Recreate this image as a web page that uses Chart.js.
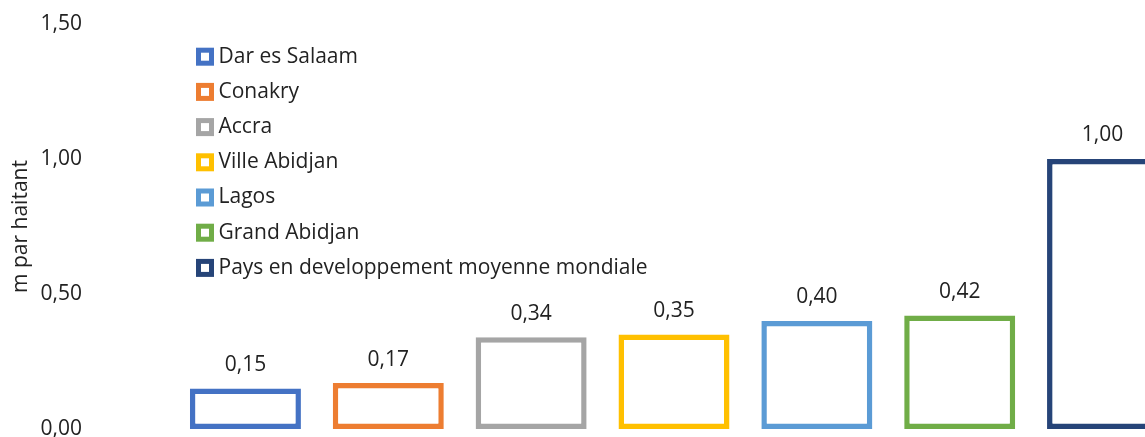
<!DOCTYPE html>
<html>
<head>
<meta charset="utf-8">
<script src="https://cdn.jsdelivr.net/npm/chart.js@4/dist/chart.umd.min.js"></script>
<style>
  html, body { margin: 0; padding: 0; background: #fff; overflow: hidden; }
  #wrap { position: relative; width: 1174px; height: 437px; }
</style>
</head>
<body>
<div id="wrap"><canvas id="chart"></canvas></div>
<script>
// Consommation par habitant, villes africaines vs moyenne des pays en développement
const villes = ['Dar es Salaam', 'Conakry', 'Accra', 'Ville Abidjan', 'Lagos', 'Grand Abidjan', 'Pays en developpement moyenne mondiale'];
const valeurs = [0.15, 0.17, 0.34, 0.35, 0.40, 0.42, 1.00];
const couleurs = ['#4472C4', '#ED7D31', '#A5A5A5', '#FFC000', '#5B9BD5', '#70AD47', '#264478'];
const yTicks = [0, 0.5, 1, 1.5];

const FONT = "'Open Sans', 'Noto Sans', sans-serif";
const SIZE = 21;
const TXT = '#222';
const fmt = v => v.toFixed(2).replace('.', ',');

// valeur écrite au-dessus de chaque barre
const barLabels = {
  id: 'barLabels',
  afterDatasetsDraw(chart){
    const ctx = chart.ctx;
    const meta = chart.getDatasetMeta(0);
    ctx.save();
    ctx.font = SIZE + 'px ' + FONT;
    ctx.fillStyle = TXT;
    ctx.textAlign = 'center';
    ctx.textBaseline = 'middle';
    meta.data.forEach((bar, i) => {
      ctx.fillText(fmt(valeurs[i]), bar.x, bar.y - 23.5);
    });
    ctx.restore();
  }
};

// légende en colonne, en haut à gauche de la zone de tracé
const insetLegend = {
  id: 'insetLegend',
  afterDraw(chart){
    const { ctx, chartArea } = chart;
    const x0 = chartArea.left + 24.5, y0 = chartArea.top + 32.7, step = 35.2;
    ctx.save();
    ctx.font = SIZE + 'px ' + FONT;
    ctx.textBaseline = 'middle';
    ctx.textAlign = 'left';
    chart.data.labels.forEach((t, i) => {
      const y = y0 + i * step;
      ctx.fillStyle = '#fff';
      ctx.strokeStyle = couleurs[i];
      ctx.lineWidth = 5;
      ctx.fillRect(x0, y - 6.5, 13, 13);
      ctx.strokeRect(x0, y - 6.5, 13, 13);
      ctx.fillStyle = TXT;
      ctx.fillText(t, x0 + 20, y);
    });
    ctx.restore();
  }
};

new Chart(document.getElementById('chart'), {
  type: 'bar',
  data: {
    labels: villes,
    datasets: [{
      data: valeurs,
      backgroundColor: '#fff',
      borderColor: couleurs,
      borderWidth: 5.5,
      borderSkipped: false,
      barPercentage: 0.777,
      categoryPercentage: 1
    }]
  },
  options: {
    responsive: true, maintainAspectRatio: false, animation: false,
    layout: { padding: { top: 24, bottom: 8, left: 0, right: 0 } },
    scales: {
      x: { display: false },
      y: {
        min: 0, max: 1.5,
        // axe large à gauche, sans marge verticale ajoutée par le padding des ticks
        afterFit(s){ s.width = 174; s.paddingTop = 0; s.paddingBottom = 0; },
        afterBuildTicks(s){ s.ticks = yTicks.map(v => ({ value: v })); },
        grid: { display: false, drawTicks: false },
        border: { display: false },
        ticks: { padding: 92, color: TXT, font: { family: FONT, size: SIZE }, callback: v => fmt(v) },
        title: { display: true, text: 'm par haitant', color: TXT, font: { family: FONT, size: SIZE }, padding: { top: 8, bottom: 0 } }
      }
    },
    plugins: {
      tooltip: { enabled: false },
      legend: { display: false }
    }
  },
  plugins: [barLabels, insetLegend]
});
</script>
</body>
</html>
